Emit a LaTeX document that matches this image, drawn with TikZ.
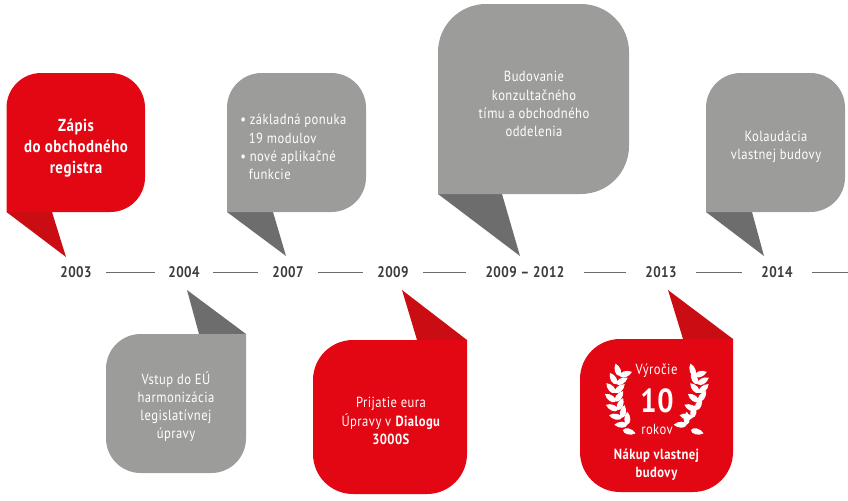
\documentclass[tikz,border=0pt]{standalone}
\usepackage{fontspec}
\setmainfont[FakeStretch=0.86,LetterSpace=3]{PT Sans}
\usetikzlibrary{positioning}
\definecolor{boxred}{HTML}{E30613}
\definecolor{tailred}{HTML}{CA0C13}
\definecolor{boxgray}{HTML}{9C9C9B}
\definecolor{tailgray}{HTML}{6D6D6D}
\definecolor{yeargray}{HTML}{3C3C3B}
\definecolor{rulegray}{HTML}{6B6B6B}
\tikzset{
  year/.style={text=yeargray, font=\fontsize{11.5}{12}\selectfont\bfseries, inner ysep=0pt, inner xsep=#1},
  rule/.style={draw=rulegray, line width=0.75pt},
  label/.style={text=white, align=center, font=\fontsize{11}{13.6}\selectfont, inner sep=0pt},
  leaf/.pic={\fill[white] (0,0) .. controls (1,4) and (9,4) .. (13,0) .. controls (9,-4) and (1,-4) .. (0,0) -- cycle;}
}
\begin{document}
\begin{tikzpicture}[x=0.75pt,y=-0.75pt]
  \useasboundingbox (0,0) rectangle (848,500);

  % timeline
  \node[year=10.5pt] (y2003) at (76,272.5) {2003};
  \node[year=9.5pt] (y2004) at (184,272.5) {2004};
  \node[year=10.5pt] (y2007) at (288,272.5) {2007};
  \node[year=10.5pt] (y2009) at (393,272.5) {2009};
  \node[year=14.5pt] (y2012) at (525,272.5) {2009 – 2012};
  \node[year=14.5pt] (y2013) at (661,272.5) {2013};
  \node[year=14pt] (y2014) at (777,272.5) {2014};
  \coordinate (yend) at (848,272.5);
  \draw[rule] (y2003) -- (y2004);
  \draw[rule] (y2004) -- (y2007);
  \draw[rule] (y2007) -- (y2009);
  \draw[rule] (y2009) -- (y2012);
  \draw[rule] (y2012) -- (y2013);
  \draw[rule] (y2013) -- (y2014);
  \draw[rule] (y2014) -- (yend);

  % upper bubbles
  \fill[tailred] (6.5,212) -- (66,257) -- (52,212) -- cycle;
  \fill[boxred] (6.5,212) [rounded corners=26] -- (6.5,73) -- (145,73) -- (145,212) [sharp corners] -- cycle;
  \node[label, font=\fontsize{13}{16}\selectfont\bfseries] (zapis) at (76,148) {Zápis\\do obchodného\\registra};

  \fill[tailgray] (227,212) -- (286,256) -- (273,212) -- cycle;
  \fill[boxgray] (227,212) [rounded corners=26] -- (227,73) -- (366,73) -- (366,212) [sharp corners] -- cycle;
  \node[label, align=left, anchor=west] (ponuka) at (240,147) {• základná ponuka\\\hspace{6.5pt}19 modulov\\• nové aplikačné\\\hspace{6.5pt}funkcie};

  \fill[tailgray] (438,194) -- (520,256) -- (502,194) -- cycle;
  \fill[boxgray] (438,194) [rounded corners=36] -- (438,4) -- (629,4) -- (629,194) [sharp corners] -- cycle;
  \node[label] (tim) at (534,104) {Budovanie\\konzultačného\\tímu a obchodného\\oddelenia};

  \fill[tailgray] (706,212) -- (764,256) -- (752,212) -- cycle;
  \fill[boxgray] (706,212) [rounded corners=26] -- (706,73) -- (845,73) -- (845,212) [sharp corners] -- cycle;
  \node[label] (kolaudacia) at (776,147) {Kolaudácia\\vlastnej budovy};

  % lower bubbles
  \fill[tailgray] (246,334) -- (187,290) -- (199,334) -- cycle;
  \fill[boxgray] (246,334) [rounded corners=26] -- (246,473) -- (106,473) -- (106,334) [sharp corners] -- cycle;
  \node[label] (eu) at (176,406.5) {Vstup do EÚ\\harmonizácia\\legislatívnej\\úpravy};

  \fill[tailred] (467,340) -- (402,290) -- (417,340) -- cycle;
  \fill[boxred] (467,340) [rounded corners=30] -- (467,494) -- (313,494) -- (313,340) [sharp corners] -- cycle;
  \node[label] (eura) at (391,421) {Prijatie eura\\Úpravy v \textbf{Dialogu}\\\textbf{3000S}};

  \fill[tailred] (733,339) -- (668,290) -- (683,339) -- cycle;
  \fill[boxred] (733,339) [rounded corners=30] -- (733,492) -- (580,492) -- (580,339) [sharp corners] -- cycle;
  \node[label] (vyrocie) at (656.5,371) {Výročie};
  \node[label, font=\fontsize{25}{25}\selectfont\bfseries] (desat) at (657,400.5) {10};
  \node[label] (rokov) at (657,429) {rokov};
  \node[label, font=\fontsize{11}{13.6}\selectfont\bfseries] (nakup) at (656.5,465) {Nákup vlastnej\\budovy};

  % wreath
  \foreach \flip in {1,-1} {
    \begin{scope}[shift={(657,395)},xscale=\flip]
      \foreach \ang in {135,147,159,171,183,195,207} {
        \pic[rotate=-\ang-45] at (\ang:42) {leaf};
        \pic[rotate=-\ang-135] at (\ang:42) {leaf};
      }
      \pic[rotate=-15] at (-34,35) {leaf};
    \end{scope}
  }
\end{tikzpicture}
\end{document}
